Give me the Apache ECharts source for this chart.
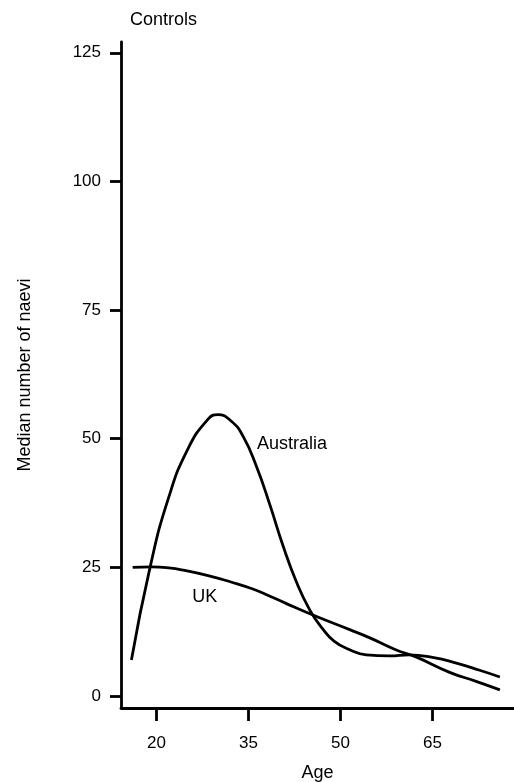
<!DOCTYPE html>
<html>
<head>
<meta charset="utf-8">
<script src="https://cdn.jsdelivr.net/npm/echarts@6/dist/echarts.min.js"></script>
<style>html,body{margin:0;padding:0;background:#fff;}#c{width:514px;height:782px;}</style>
</head>
<body>
<div id="c"></div>
<script>
const ausAges = [15.9, 18.9, 21.9, 25.1, 28.4, 30.0, 32.2, 34.1, 36.3, 38.5, 40.6, 42.8, 45.0, 47.0, 49.0, 51.5, 54.2, 58.0, 61.2, 65.0, 68.9, 72.7, 76.0];
const ausValues = [7.0, 24.8, 38.3, 48.0, 53.8, 54.7, 53.4, 50.5, 44.6, 37.1, 29.3, 22.2, 16.7, 13.2, 10.6, 9.0, 8.0, 7.8, 8.0, 7.5, 6.4, 5.0, 3.7];
const ukAges = [16.1, 19.2, 22.0, 24.6, 28.4, 32.0, 35.7, 38.5, 41.1, 45.8, 51.5, 54.8, 59.0, 62.3, 67.8, 72.0, 76.0];
const ukValues = [25.0, 25.1, 24.9, 24.4, 23.4, 22.2, 20.8, 19.4, 18.0, 15.6, 12.9, 11.3, 9.0, 7.6, 4.6, 2.9, 1.2];
const xTicks = [20, 35, 50, 65];
const yTicks = [0, 25, 50, 75, 100, 125];
const seriesNames = ['Australia', 'UK'];
const labelCoords = [[42.1, 48.9], [27.85, 19.2]];

const font = 'Liberation Sans, Arial, Helvetica, sans-serif';
const chart = echarts.init(document.getElementById('c'));
function pairs(xs, ys) { return xs.map((x, i) => [x, ys[i]]); }
function lineSeries(name, data, coord) {
  return {
    name: name, type: 'line', data: data, smooth: 0.5, symbol: 'none',
    lineStyle: { color: '#000', width: 2.8 },
    silent: true,
    markPoint: {
      symbol: 'circle', symbolSize: 1, itemStyle: { color: 'rgba(0,0,0,0)' },
      label: { show: true, formatter: name, color: '#000', fontSize: 18, fontFamily: font, position: 'inside' },
      data: [{ coord: coord }]
    }
  };
}
chart.setOption({
  animation: false,
  title: { text: 'Controls', left: 125, top: 6, textStyle: { fontSize: 18, fontWeight: 'normal', color: '#000', fontFamily: font } },
  grid: { left: 121, right: 0, top: 42, bottom: 74, containLabel: false, outerBoundsMode: 'none' },
  xAxis: {
    type: 'value', min: 14.2, max: 78.3,
    name: 'Age', nameLocation: 'middle', nameGap: 56,
    nameTextStyle: { fontSize: 18, color: '#000', fontFamily: font },
    axisLine: { show: true, onZero: false, lineStyle: { color: '#000', width: 2.8 } },
    axisTick: { show: true, length: 13, customValues: xTicks, lineStyle: { color: '#000', width: 2.8 } },
    axisLabel: { customValues: xTicks, margin: 27, fontSize: 17, color: '#000', fontFamily: font },
    splitLine: { show: false }
  },
  yAxis: {
    type: 'value', min: -2.33, max: 127.1,
    name: 'Median number of naevi', nameLocation: 'middle', nameGap: 87,
    nameTextStyle: { fontSize: 18, color: '#000', fontFamily: font },
    axisLine: { show: true, onZero: false, lineStyle: { color: '#000', width: 2.8 } },
    axisTick: { show: true, length: 11, customValues: yTicks, lineStyle: { color: '#000', width: 2.8 } },
    axisLabel: { customValues: yTicks, margin: 20, fontSize: 17, color: '#000', fontFamily: font },
    splitLine: { show: false }
  },
  series: [
    lineSeries(seriesNames[0], pairs(ausAges, ausValues), labelCoords[0]),
    lineSeries(seriesNames[1], pairs(ukAges, ukValues), labelCoords[1])
  ]
});
</script>
</body>
</html>
